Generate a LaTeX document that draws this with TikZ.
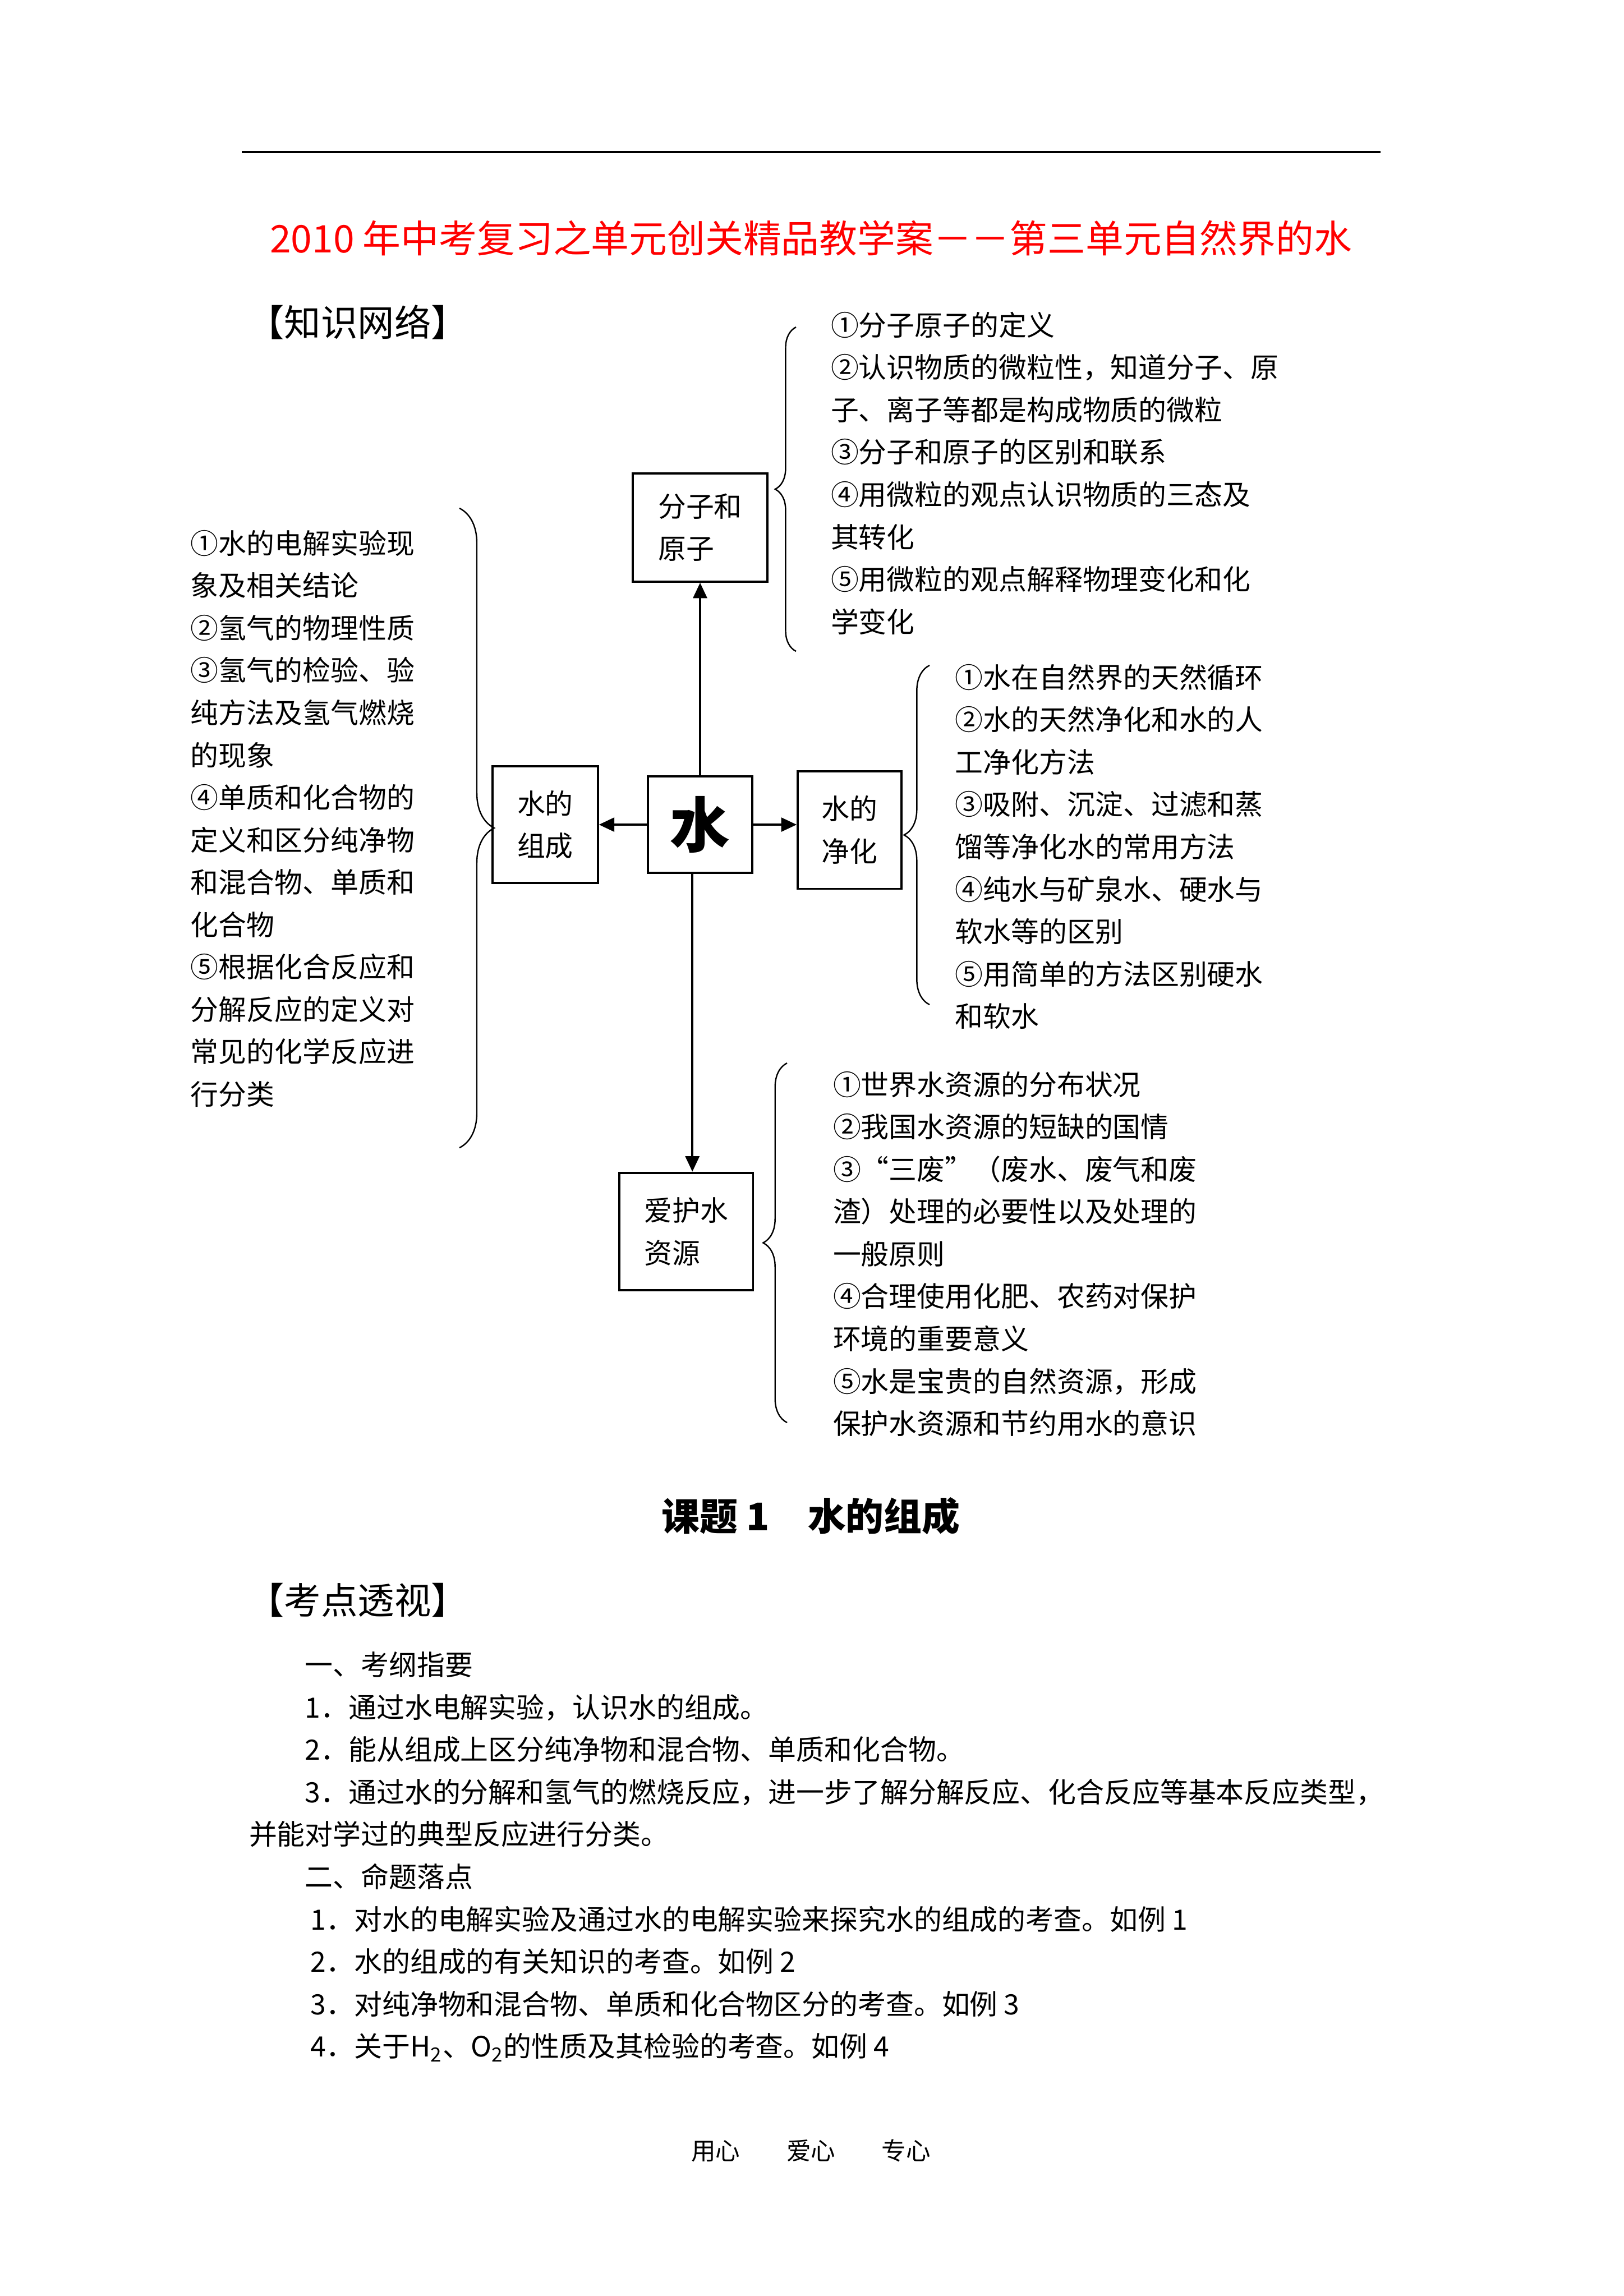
\documentclass[tikz,border=0pt]{standalone}
\usepackage{fontspec}
\setmainfont{Noto Sans CJK SC}
\usepackage{xcolor}
\usetikzlibrary{positioning, arrows.meta, decorations.pathreplacing}
\definecolor{titlered}{HTML}{FF0000}

\begin{document}
\begin{tikzpicture}[
    box/.style={rectangle, draw=black, line width=0.8pt, align=left, inner sep=0pt, font=\fontsize{10.3}{15.6}\selectfont},
    arr/.style={-{Triangle[length=0.2cm, width=0.18cm]}, line width=0.8pt},
    brc/.style={decorate, decoration={brace, amplitude=#1}, line width=0.5pt},
    items/.style={anchor=north west, inner sep=0pt, align=left, font=\fontsize{10.3}{15.6}\selectfont}
]
    % Page
    \fill [white] (0,0) rectangle (21,-29.7);
    \useasboundingbox (0,0) rectangle (21,-29.7);

    % Header
    \draw [line width=0.75pt] (3.128,-1.967) -- (17.86,-1.967);
    \node (title) [font=\fontsize{14}{14}\selectfont, text=titlered] at (10.49,-3.084) {2010 年中考复习之单元创关精品教学案－－第三单元自然界的水};
    \node (wangluo) [anchor=west, font=\fontsize{13.5}{13.5}\selectfont] at (3.08,-4.165) {【知识网络】};

    % Boxes
    \node (shui) [box, minimum width=1.35cm, minimum height=1.25cm, font=\fontsize{22}{22}\selectfont\bfseries] at (9.056,-10.667) {水};
    \node (fenzi) [box, minimum width=1.74cm, minimum height=1.40cm, above=2.49cm of shui] {分子和\\原子};
    \node (zucheng) [box, minimum width=1.36cm, minimum height=1.51cm, left=0.62cm of shui] {水的\\组成};
    \node (jinghua) [box, minimum width=1.34cm, minimum height=1.52cm, right=0.56cm of shui, yshift=-0.07cm] {水的\\净化};
    \node (aihu) [box, minimum width=1.73cm, minimum height=1.52cm, below=3.85cm of shui, xshift=-0.18cm] {爱护水\\资源};

    % Arrows
    \draw [arr] (shui) -- (fenzi);
    \draw [arr] (shui) -- (zucheng);
    \draw [arr] (shui.east) -- (shui.east -| jinghua.west);
    \draw [arr] ([xshift=-0.1cm]shui.south) -- ([xshift=-0.1cm]shui.south |- aihu.north);

    % Braces
    \draw [brc=0.45cm] (5.943,-6.574) -- (5.943,-14.847);
    \draw [brc=0.27cm] (10.297,-8.425) -- (10.297,-4.231);
    \draw [brc=0.33cm] (12.024,-12.996) -- (12.024,-8.606);
    \draw [brc=0.31cm] (10.181,-18.402) -- (10.181,-13.751);

    % Item lists
    \node (zuchengtxt) [items] at (2.460,-6.85) {①水的电解实验现\\象及相关结论\\②氢气的物理性质\\③氢气的检验、验\\纯方法及氢气燃烧\\的现象\\④单质和化合物的\\定义和区分纯净物\\和混合物、单质和\\化合物\\⑤根据化合反应和\\分解反应的定义对\\常见的化学反应进\\行分类};
    \node (fenzitxt) [items] at (10.740,-4.027) {①分子原子的定义\\②认识物质的微粒性，知道分子、原\\子、离子等都是构成物质的微粒\\③分子和原子的区别和联系\\④用微粒的观点认识物质的三态及\\其转化\\⑤用微粒的观点解释物理变化和化\\学变化};
    \node (jinghuatxt) [items] at (12.350,-8.584) {①水在自然界的天然循环\\②水的天然净化和水的人\\工净化方法\\③吸附、沉淀、过滤和蒸\\馏等净化水的常用方法\\④纯水与矿泉水、硬水与\\软水等的区别\\⑤用简单的方法区别硬水\\和软水};
    \node (aihutxt) [items] at (10.769,-13.852) {①世界水资源的分布状况\\②我国水资源的短缺的国情\\③“三废”（废水、废气和废\\渣）处理的必要性以及处理的\\一般原则\\④合理使用化肥、农药对保护\\环境的重要意义\\⑤水是宝贵的自然资源，形成\\保护水资源和节约用水的意识};

    % Lesson part
    \node (keti) [font=\fontsize{14}{14}\selectfont\bfseries] at (10.49,-19.61) {课题 1\quad 水的组成};
    \node (toushi) [anchor=west, font=\fontsize{13.5}{13.5}\selectfont] at (3.08,-20.70) {【考点透视】};
    \node (gangyao) [items] at (3.215,-21.36) {\hspace*{2em}一、考纲指要\\\hspace*{2em}1．通过水电解实验，认识水的组成。\\\hspace*{2em}2．能从组成上区分纯净物和混合物、单质和化合物。\\\hspace*{2em}3．通过水的分解和氢气的燃烧反应，进一步了解分解反应、化合反应等基本反应类型，\\并能对学过的典型反应进行分类。\\\hspace*{2em}二、命题落点\\\hspace*{2.2em}1．对水的电解实验及通过水的电解实验来探究水的组成的考查。如例 1\\\hspace*{2.2em}2．水的组成的有关知识的考查。如例 2\\\hspace*{2.2em}3．对纯净物和混合物、单质和化合物区分的考查。如例 3\\\hspace*{2.2em}4．关于H\textsubscript{2}、O\textsubscript{2}的性质及其检验的考查。如例 4};

    % Footer
    \node (footer) [font=\fontsize{9}{9}\selectfont] at (10.49,-27.82) {用心\hspace{0.6cm}爱心\hspace{0.6cm}专心};
\end{tikzpicture}
\end{document}
